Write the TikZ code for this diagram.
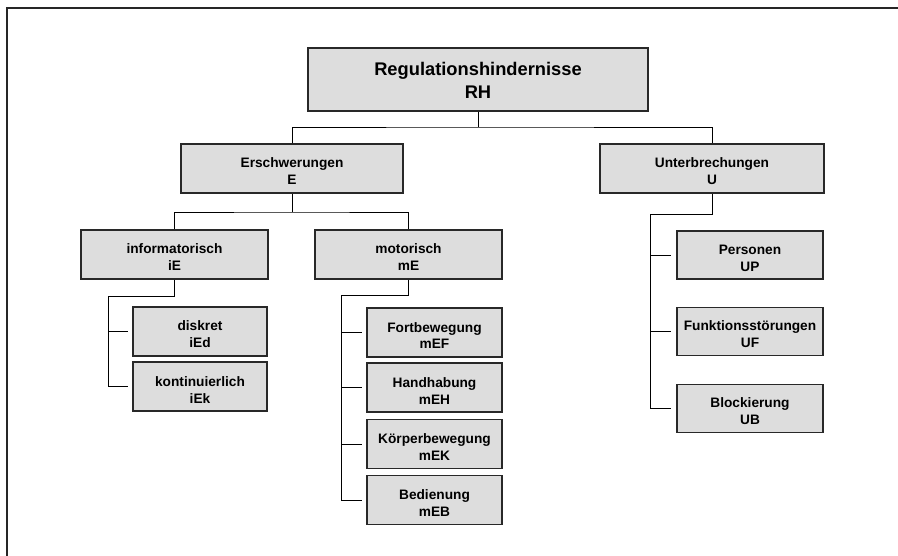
\documentclass[tikz,border=0pt]{standalone}
\usepackage{fontspec}
\setmainfont{Liberation Sans}
\definecolor{boxgray}{RGB}{221,221,221}
\definecolor{boxline}{RGB}{40,40,40}
\tikzset{
  hbox/.style={draw=boxline, line width=1.1pt, fill=boxgray, align=center, inner sep=0pt,
    font={\fontsize{13.7}{17}\selectfont\bfseries}, minimum height=49pt,
    execute at begin node={\rule{0pt}{#1}}},
  hbox/.default=33pt,
  link/.style={draw, line width=0.9pt, black}
}
\begin{document}
\begin{tikzpicture}[x=1pt,y=-1pt]
\useasboundingbox (0,0) rectangle (898,556);
\draw[line width=2pt, black!85] (7,556) -- (7,8) -- (898,8);

\node[hbox=38pt, minimum width=340pt, minimum height=63pt, font={\fontsize{18.3}{22.5}\selectfont\bfseries}] (RH) at (478,79.5) {Regulationshindernisse\\RH};
\node[hbox, minimum width=222pt] (E) at (292,168.5) {Erschwerungen\\E};
\node[hbox, minimum width=224pt] (U) at (712,168.5) {Unterbrechungen\\U};
\node[hbox, minimum width=187pt] (iE) at (174.5,254.5) {informatorisch\\iE};
\node[hbox, minimum width=187pt] (mE) at (408.5,254.5) {motorisch\\mE};
\node[hbox, minimum width=134pt] (iEd) at (200,331.5) {diskret\\iEd};
\node[hbox, minimum width=134pt] (iEk) at (200,386.5) {kontinuierlich\\iEk};
\node[hbox, minimum width=135pt] (mEF) at (434.5,332.5) {Fortbewegung\\mEF};
\node[hbox, minimum width=135pt] (mEH) at (434.5,387.5) {Handhabung\\mEH};
\node[hbox, minimum width=135pt] (mEK) at (434.5,444) {Körperbewegung\\mEK};
\node[hbox, minimum width=135pt] (mEB) at (434.5,500) {Bedienung\\mEB};
\node[hbox, minimum width=146pt, minimum height=48pt] (UP) at (750,255) {Personen\\UP};
\node[hbox, minimum width=146pt, minimum height=48pt] (UF) at (750,331.5) {Funktionsstörungen\\UF};
\node[hbox, minimum width=146pt, minimum height=48pt] (UB) at (750,408.5) {Blockierung\\UB};

% bus lines
\coordinate (RHbus) at (478,127);
\coordinate (Ebus) at (292,212);
\coordinate (iEbus) at (108,296);
\coordinate (mEbus) at (341,295);
\coordinate (Ubus) at (650,214);

\path[link] (RH.south) -- (RHbus);
\path[link] (E.north) |- (RHbus) -| (U.north);
\path[link] (E.south) -- (Ebus);
\path[link] (iE.north) |- (Ebus) -| (mE.north);

\path[link] (iE.south) |- (iEbus) |- ([xshift=-4pt]iEk.west);
\path[link] (iEbus |- iEd.west) -- ([xshift=-4pt]iEd.west);

\path[link] (mE.south) |- (mEbus) |- ([xshift=-4pt]mEB.west);
\foreach \b in {mEF,mEH,mEK}
  \path[link] (mEbus |- \b.west) -- ([xshift=-4pt]\b.west);

\path[link] (U.south) |- (Ubus) |- ([xshift=-5pt]UB.west);
\foreach \b in {UP,UF}
  \path[link] (Ubus |- \b.west) -- ([xshift=-5pt]\b.west);
\end{tikzpicture}
\end{document}
